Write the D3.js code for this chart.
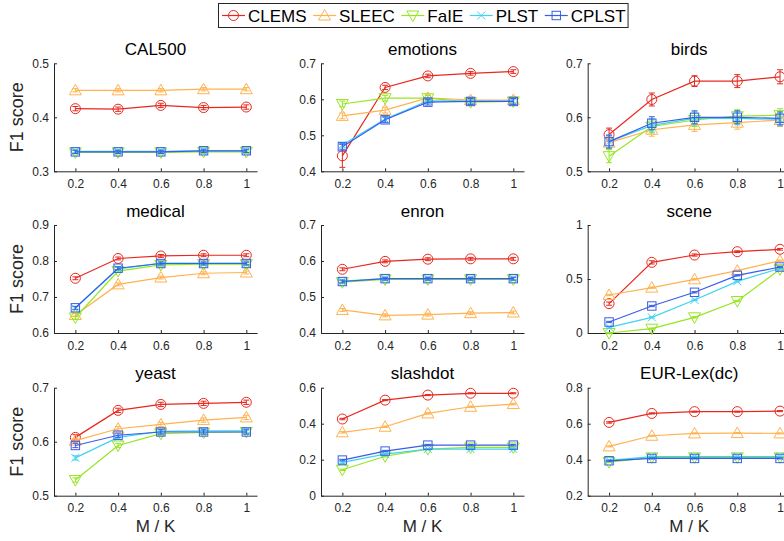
<!DOCTYPE html>
<html><head><meta charset="utf-8">
<script src="https://cdn.jsdelivr.net/npm/d3@7"></script>
<style>
body{margin:0;background:#fff;}
svg{display:block;font-family:"Liberation Sans",Arial,Helvetica,sans-serif;}
</style></head>
<body><svg id="c" width="784" height="541"></svg>
<script>
// ---------- data ----------
const methods = ["CLEMS","SLEEC","FaIE","PLST","CPLST"];
const colors = ["#e8281e","#ffb24f","#96e620","#3fd3f2","#3a5de8"];
const shapes = ["circle","triangleUp","triangleDown","cross","square"];
const ratios = [0.2,0.4,0.6,0.8,1];
const ratioLabels = ["0.2","0.4","0.6","0.8","1"];
const datasetNames = ["CAL500","emotions","birds","medical","enron","scene","yeast","slashdot","EUR-Lex(dc)"];
const yDomains = [[0.3,0.5],[0.4,0.7],[0.5,0.7],[0.6,0.9],[0.4,0.7],[0,1],[0.5,0.7],[0,0.6],[0.2,0.8]];
const yTickValues = [[0.3,0.4,0.5],[0.4,0.5,0.6,0.7],[0.5,0.6,0.7],[0.6,0.7,0.8,0.9],[0.4,0.5,0.6,0.7],[0,0.5,1],[0.5,0.6,0.7],[0,0.2,0.4,0.6],[0.2,0.4,0.6,0.8]];
const yTickLabels = [["0.3","0.4","0.5"],["0.4","0.5","0.6","0.7"],["0.5","0.6","0.7"],["0.6","0.7","0.8","0.9"],["0.4","0.5","0.6","0.7"],["0","0.5","1"],["0.5","0.6","0.7"],["0","0.2","0.4","0.6"],["0.2","0.4","0.6","0.8"]];

// series per dataset, order: CLEMS, SLEEC, FaIE, PLST, CPLST
const CAL500   = [[0.416,0.415,0.422,0.418,0.419],[0.450,0.450,0.450,0.452,0.452],[0.335,0.335,0.335,0.336,0.336],[0.337,0.337,0.337,0.338,0.338],[0.336,0.336,0.336,0.338,0.338]];
const emotions = [[0.443,0.633,0.665,0.672,0.677],[0.554,0.570,0.604,0.598,0.598],[0.587,0.603,0.603,0.592,0.594],[0.473,0.545,0.596,0.595,0.595],[0.468,0.543,0.592,0.594,0.594]];
const birds    = [[0.568,0.633,0.667,0.667,0.675],[0.553,0.577,0.586,0.590,0.595],[0.528,0.583,0.595,0.602,0.604],[0.555,0.585,0.598,0.598,0.596],[0.555,0.589,0.600,0.600,0.598]];
const medical  = [[0.752,0.807,0.814,0.816,0.816],[0.650,0.735,0.754,0.766,0.768],[0.643,0.772,0.789,0.791,0.791],[0.669,0.778,0.794,0.794,0.794],[0.670,0.780,0.793,0.793,0.793]];
const enron    = [[0.577,0.599,0.605,0.606,0.606],[0.464,0.449,0.451,0.455,0.457],[0.541,0.549,0.549,0.549,0.549],[0.544,0.551,0.551,0.551,0.551],[0.543,0.551,0.551,0.551,0.551]];
const scene    = [[0.272,0.654,0.722,0.753,0.775],[0.352,0.420,0.497,0.577,0.670],[0.000,0.040,0.145,0.296,0.590],[0.052,0.145,0.306,0.478,0.600],[0.102,0.250,0.377,0.534,0.611]];
const yeast    = [[0.608,0.658,0.669,0.671,0.673],[0.602,0.624,0.632,0.640,0.645],[0.529,0.593,0.615,0.617,0.618],[0.570,0.608,0.619,0.620,0.620],[0.593,0.612,0.618,0.618,0.618]];
const slashdot = [[0.426,0.531,0.559,0.569,0.569],[0.352,0.383,0.457,0.494,0.509],[0.144,0.219,0.259,0.268,0.268],[0.185,0.231,0.259,0.259,0.259],[0.198,0.248,0.281,0.281,0.281]];
const eurlex   = [[0.607,0.657,0.667,0.667,0.670],[0.474,0.533,0.546,0.548,0.546],[0.387,0.413,0.413,0.413,0.413],[0.396,0.417,0.417,0.417,0.417],[0.394,0.407,0.407,0.407,0.407]];
const allData = [CAL500,emotions,birds,medical,enron,scene,yeast,slashdot,eurlex];

// error bar half-widths (CLEMS per point; other methods one value per dataset)
const errCLEMS = [[0.004,0.004,0.004,0.004,0.004],[0.032,0.006,0.005,0.005,0.005],[0.012,0.012,0.010,0.012,0.013],[0.004,0.004,0.004,0.004,0.004],[0.004,0.004,0.004,0.004,0.004],[0.015,0.015,0.010,0.008,0.008],[0.005,0.004,0.004,0.004,0.004],[0.004,0.003,0.003,0.003,0.003],[0.004,0.003,0.003,0.003,0.003]];
const errOthers = [0.003,0.008,0.012,0.004,0.004,0.006,0.004,0.004,0.003];

// ---------- layout ----------
const svg = d3.select("#c");
const colX = [54,321,587.7];
const rowY = [63.3,225,387.7];
const pw = 203, ph = 108;
const axisCol = "#262626";

function drawMarker(g, shape, color, x, y){
  if(shape==="circle"){
    g.append("circle").attr("cx",x).attr("cy",y).attr("r",5).attr("fill","none").attr("stroke",color).attr("stroke-width",1);
  } else if(shape==="triangleUp"){
    const s=6;
    g.append("path").attr("d",`M${x},${y-s}L${x+s},${y+s*0.75}L${x-s},${y+s*0.75}Z`).attr("fill","none").attr("stroke",color);
  } else if(shape==="triangleDown"){
    const s=6;
    g.append("path").attr("d",`M${x},${y+s}L${x+s},${y-s*0.75}L${x-s},${y-s*0.75}Z`).attr("fill","none").attr("stroke",color);
  } else if(shape==="cross"){
    const s=4;
    g.append("path").attr("d",`M${x-s},${y-s}L${x+s},${y+s}M${x-s},${y+s}L${x+s},${y-s}`).attr("fill","none").attr("stroke",color);
  } else {
    const s=4.2;
    g.append("rect").attr("x",x-s).attr("y",y-s).attr("width",2*s).attr("height",2*s).attr("fill","none").attr("stroke",color);
  }
}

allData.forEach((ds,i)=>{
  const r = Math.floor(i/3), c = i%3;
  const x0 = colX[c], y0 = rowY[r];
  const x = d3.scaleLinear().domain([0.1,1.05]).range([x0,x0+pw]);
  const y = d3.scaleLinear().domain(yDomains[i]).range([y0+ph,y0]);
  const g = svg.append("g");

  // axes
  const xa = d3.axisBottom(x).tickValues(ratios).tickFormat((d,k)=>ratioLabels[k]).tickSizeInner(-3).tickSizeOuter(0).tickPadding(8);
  const ya = d3.axisLeft(y).tickValues(yTickValues[i]).tickFormat((d,k)=>yTickLabels[i][k]).tickSizeInner(-3).tickSizeOuter(0).tickPadding(5);
  const gx = g.append("g").attr("transform",`translate(0,${y0+ph})`).call(xa);
  const gy = g.append("g").attr("transform",`translate(${x0},0)`).call(ya);
  [gx,gy].forEach(a=>{
    a.selectAll("path,line").attr("stroke",axisCol).attr("stroke-width",1);
    a.selectAll("text").attr("fill",axisCol).style("font-size","12px").style("font-family","'Liberation Sans',Arial,sans-serif");
  });

  // title
  g.append("text").attr("x",x0+pw/2).attr("y",y0-8.5).attr("text-anchor","middle")
    .style("font-size","17px").attr("fill","#000").text(datasetNames[i]);

  if(c===0){
    g.append("text").attr("transform",`translate(23,${y0+ph/2}) rotate(-90)`).attr("text-anchor","middle")
      .style("font-size","18px").attr("fill",axisCol).text("F1 score");
  }
  if(r===2){
    g.append("text").attr("x",x0+pw/2).attr("y",y0+ph+36).attr("text-anchor","middle")
      .style("font-size","17px").attr("fill",axisCol).text("M / K");
  }

  // series
  const line = d3.line().x((d,k)=>x(ratios[k])).y(d=>y(d));
  ds.forEach((vals,m)=>{
    const sg = g.append("g");
    sg.append("path").datum(vals).attr("d",line).attr("fill","none").attr("stroke",colors[m]).attr("stroke-width",1.2);
    vals.forEach((v,k)=>{
      const e = m===0 ? errCLEMS[i][k] : errOthers[i];
      const cx = x(ratios[k]);
      const yt = y(v+e), yb = y(v-e);
      sg.append("path").attr("d",`M${cx},${yt}L${cx},${yb}M${cx-3},${yt}L${cx+3},${yt}M${cx-3},${yb}L${cx+3},${yb}`)
        .attr("stroke",colors[m]).attr("stroke-width",1).attr("fill","none");
      drawMarker(sg, shapes[m], colors[m], cx, y(v));
    });
  });
});

// ---------- legend ----------
const lg = svg.append("g");
const box = lg.append("rect").attr("y",3.5).attr("height",24).attr("fill","#fff").attr("stroke","#262626").attr("stroke-width",1);
let cx = 222;
methods.forEach((m,k)=>{
  lg.append("line").attr("x1",cx).attr("x2",cx+23).attr("y1",15.5).attr("y2",15.5).attr("stroke",colors[k]).attr("stroke-width",1.2);
  drawMarker(lg, shapes[k], colors[k], cx+11.5, 15.5);
  const t = lg.append("text").attr("x",cx+26).attr("y",21.5).style("font-size","17px").attr("fill","#000").text(m);
  cx = cx+26+t.node().getComputedTextLength()+6.5;
});
box.attr("x",218.5).attr("width",cx-4-218.5);
</script>
</body></html>
